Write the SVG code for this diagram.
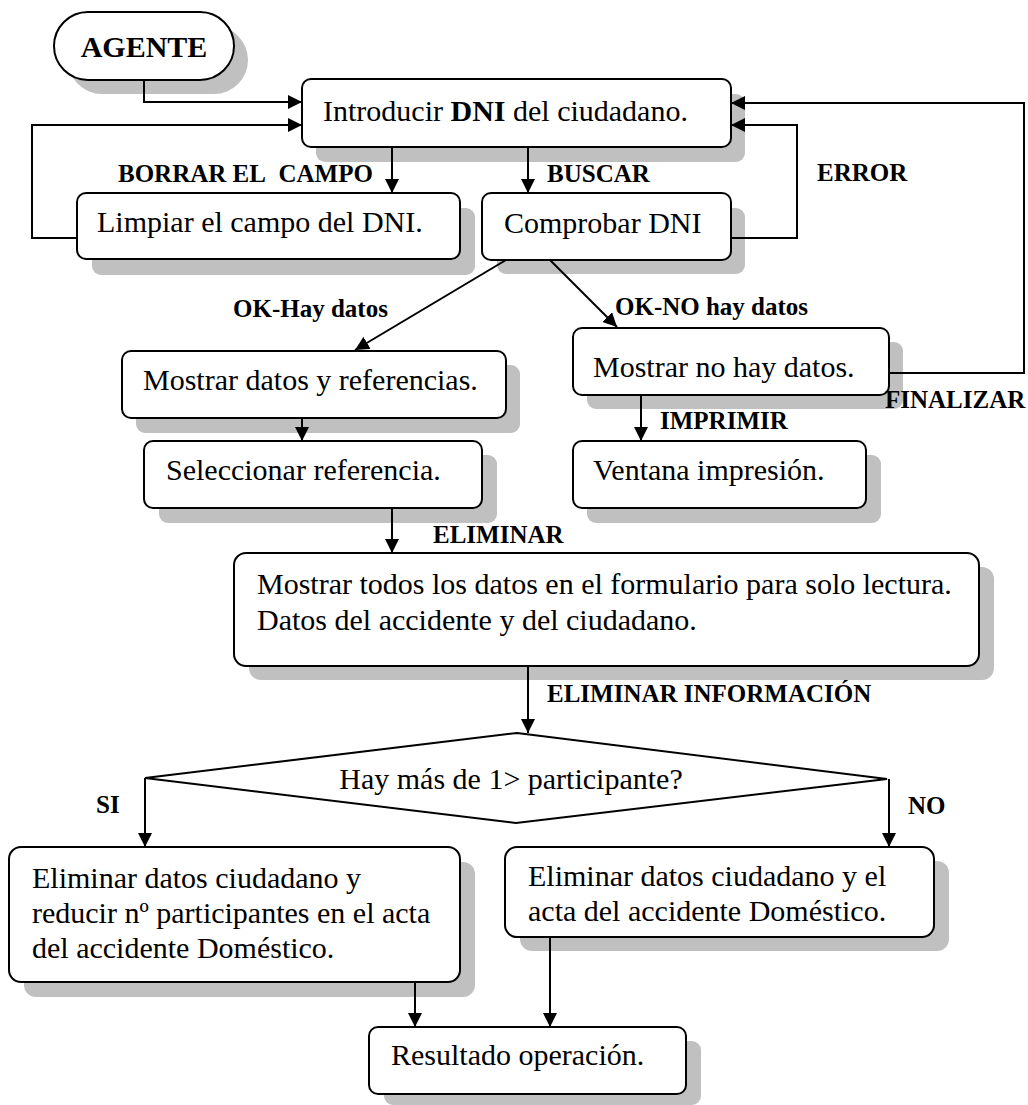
<svg xmlns="http://www.w3.org/2000/svg" width="1028" height="1105" viewBox="0 0 1028 1105">
  <style>
    .shadow { fill: #c0c0c0; stroke: none; }
    .box { fill: #ffffff; stroke: #000000; stroke-width: 2; }
    .txt { font-family: "Liberation Serif", "Times New Roman", serif; font-size: 30px; fill: #000000; }
    .head { font-family: "Liberation Serif", "Times New Roman", serif; font-size: 30px; font-weight: bold; fill: #000000; }
    .lbl { font-family: "Liberation Serif", "Times New Roman", serif; font-size: 25px; font-weight: bold; fill: #000000; white-space: pre; }
    .conn { fill: none; stroke: #000000; stroke-width: 2; marker-end: url(#arrow); }
  </style>
  <defs>
    <marker id="arrow" markerUnits="userSpaceOnUse" markerWidth="14" markerHeight="14" viewBox="0 0 14 14" refX="14" refY="7" orient="auto">
      <path d="M0,0 L14,7 L0,14 Z" fill="#000000"/>
    </marker>
  </defs>
  <rect width="1028" height="1105" fill="#ffffff"/>

  <!-- start terminal -->
  <g id="agente">
    <rect class="shadow" x="68" y="26" width="180" height="68" rx="34"/>
    <rect class="box" x="54" y="12" width="180" height="68" rx="34"/>
    <text class="head" x="144" y="57" text-anchor="middle">AGENTE</text>
  </g>

  <g id="introducir">
    <rect class="shadow" x="316" y="94" width="429" height="68" rx="9"/>
    <rect class="box" x="302" y="79" width="429" height="68" rx="9"/>
    <text class="txt" x="323" y="121">Introducir <tspan font-weight="bold">DNI</tspan> del ciudadano.</text>
  </g>

  <g id="limpiar">
    <rect class="shadow" x="92" y="208" width="383" height="67" rx="9"/>
    <rect class="box" x="77" y="193" width="383" height="66" rx="9"/>
    <text class="txt" x="97" y="232">Limpiar el campo del DNI.</text>
  </g>

  <g id="comprobar">
    <rect class="shadow" x="497" y="208" width="248" height="66" rx="9"/>
    <rect class="box" x="482" y="193" width="249" height="67" rx="9"/>
    <text class="txt" x="504" y="233">Comprobar DNI</text>
  </g>

  <g id="mostrar-datos">
    <rect class="shadow" x="136" y="365" width="384" height="68" rx="9"/>
    <rect class="box" x="122" y="351" width="384" height="67" rx="9"/>
    <text class="txt" x="143" y="390">Mostrar datos y referencias.</text>
  </g>

  <g id="seleccionar">
    <rect class="shadow" x="159" y="455" width="338" height="68" rx="9"/>
    <rect class="box" x="144" y="441" width="338" height="67" rx="9"/>
    <text class="txt" x="166" y="480">Seleccionar referencia.</text>
  </g>

  <g id="no-hay-datos">
    <rect class="shadow" x="587" y="342" width="316" height="67" rx="9"/>
    <rect class="box" x="573" y="328" width="316" height="67" rx="9"/>
    <text class="txt" x="593" y="377">Mostrar no hay datos.</text>
  </g>

  <g id="ventana">
    <rect class="shadow" x="587" y="455" width="294" height="68" rx="9"/>
    <rect class="box" x="573" y="441" width="293" height="67" rx="9"/>
    <text class="txt" x="593" y="480">Ventana impresión.</text>
  </g>

  <g id="formulario">
    <rect class="shadow" x="249" y="567" width="745" height="113" rx="12"/>
    <rect class="box" x="234" y="553" width="745" height="113" rx="12"/>
    <text class="txt" x="257" y="594">Mostrar todos los datos en el formulario para solo lectura.</text>
    <text class="txt" x="257" y="630">Datos del accidente y del ciudadano.</text>
  </g>

  <g id="decision">
    <polygon class="box" points="517,733 887,779 516,823 145,778"/>
    <text class="txt" x="511" y="789" text-anchor="middle">Hay más de 1&gt; participante?</text>
  </g>

  <g id="eliminar-reducir">
    <rect class="shadow" x="24" y="862" width="451" height="135" rx="12"/>
    <rect class="box" x="9" y="847" width="451" height="135" rx="12"/>
    <text class="txt" x="32" y="888">Eliminar datos ciudadano y</text>
    <text class="txt" x="32" y="923">reducir nº participantes en el acta</text>
    <text class="txt" x="32" y="958">del accidente Doméstico.</text>
  </g>

  <g id="eliminar-acta">
    <rect class="shadow" x="520" y="861" width="429" height="90" rx="12"/>
    <rect class="box" x="505" y="847" width="429" height="90" rx="12"/>
    <text class="txt" x="528" y="886">Eliminar datos ciudadano y el</text>
    <text class="txt" x="528" y="921">acta del accidente Doméstico.</text>
  </g>

  <g id="resultado">
    <rect class="shadow" x="384" y="1041" width="317" height="64" rx="9"/>
    <rect class="box" x="369" y="1027" width="317" height="67" rx="9"/>
    <text class="txt" x="391" y="1065">Resultado operación.</text>
  </g>

  <!-- connectors -->
  <g id="connectors">
    <path class="conn" d="M144,80 V102 H302"/>
    <path class="conn" d="M77,238 H32 V125 H302"/>
    <path class="conn" d="M392,147 V193"/>
    <path class="conn" d="M528,147 V193"/>
    <path class="conn" d="M731,238 H797 V125 H731"/>
    <path class="conn" d="M889,373 H1024 V103 H731"/>
    <path class="conn" d="M506,260 L355,350"/>
    <path class="conn" d="M550,260 L617,327"/>
    <path class="conn" d="M302,418 V441"/>
    <path class="conn" d="M641,395 V441"/>
    <path class="conn" d="M392,508 V553"/>
    <path class="conn" d="M528,666 V733"/>
    <path class="conn" d="M145,778 V847"/>
    <path class="conn" d="M889,779 V847"/>
    <path class="conn" d="M415,982 V1027"/>
    <path class="conn" d="M550,937 V1027"/>

    <text class="lbl" x="118" y="182">BORRAR EL&#160; CAMPO</text>
    <text class="lbl" x="547" y="182">BUSCAR</text>
    <text class="lbl" x="817" y="181">ERROR</text>
    <text class="lbl" x="233" y="317">OK-Hay datos</text>
    <text class="lbl" x="615" y="315">OK-NO hay datos</text>
    <text class="lbl" x="885" y="408">FINALIZAR</text>
    <text class="lbl" x="660" y="429">IMPRIMIR</text>
    <text class="lbl" x="433" y="543">ELIMINAR</text>
    <text class="lbl" x="547" y="702">ELIMINAR INFORMACIÓN</text>
    <text class="lbl" x="96" y="813">SI</text>
    <text class="lbl" x="908" y="814">NO</text>
  </g>
</svg>
